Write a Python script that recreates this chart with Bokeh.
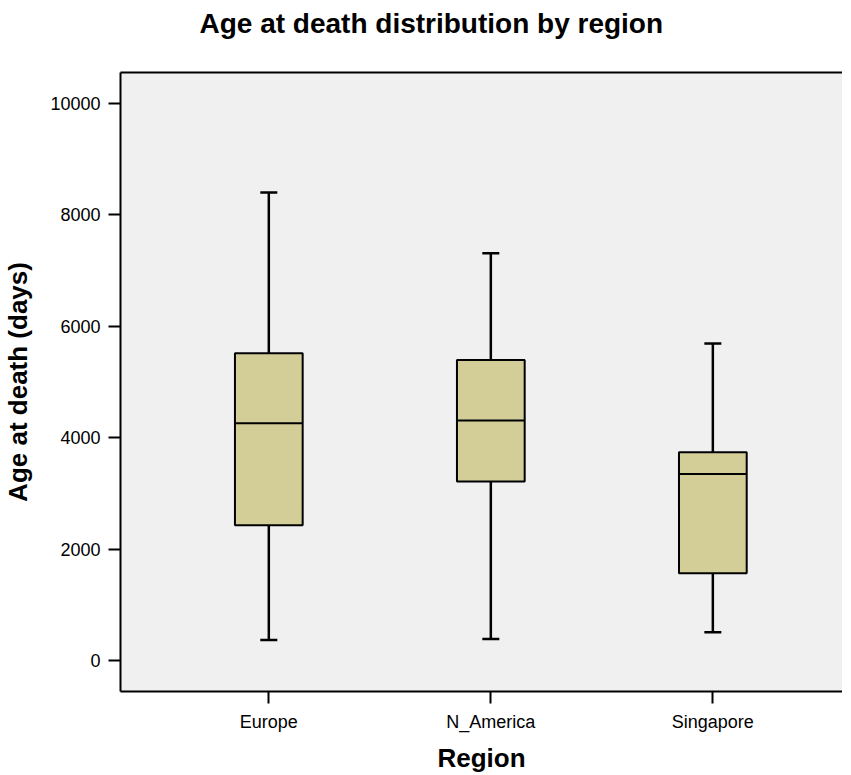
from bokeh.plotting import figure
from bokeh.models import ColumnDataSource, FixedTicker, LinearAxis, Whisker, TeeHead, Range1d
from bokeh.transform import dodge
from bokeh.embed import file_html
from bokeh.resources import INLINE

regions = ["Europe", "N_America", "Singapore"]
lower = [370, 388, 508]
q1 = [2428, 3212, 1566]
median = [4258, 4307, 3348]
q3 = [5514, 5394, 3738]
upper = [8398, 7309, 5688]
y_ticks = [0, 2000, 4000, 6000, 8000, 10000]

pos = list(range(1, len(regions) + 1))
src = ColumnDataSource(dict(x=pos, lower=lower, q1=q1, median=median, q3=q3, upper=upper))

FONT = "Liberation Sans"
BW = 0.305
BOX_FILL = "#d3ce98"

p = figure(frame_width=722, frame_height=619,
           x_range=Range1d(0.332, 3.584), y_range=Range1d(-556, 10551),
           output_backend="svg", toolbar_location=None,
           min_border_left=113, min_border_right=0, min_border_top=0, min_border_bottom=0)
p.background_fill_color = "#f0f0f0"
p.border_fill_color = "white"
p.outline_line_color = None
p.grid.visible = False

p.title.text = "Age at death distribution by region"
p.title.text_font = FONT
p.title.text_font_style = "bold"
p.title.text_font_size = "28px"
p.title.align = "left"
p.title.offset = 79
p.title.standoff = 10
p.title.text_color = "black"

for ax in (p.xaxis[0], p.yaxis[0]):
    ax.axis_line_width = 2
    ax.axis_line_color = "black"
    ax.major_tick_line_width = 2
    ax.major_tick_line_color = "black"
    ax.major_tick_out = 12
    ax.major_tick_in = 0
    ax.minor_tick_line_color = None
    ax.major_label_text_font = FONT
    ax.major_label_text_font_size = "18px"
    ax.major_label_text_color = "black"
    ax.axis_label_text_font = FONT
    ax.axis_label_text_font_style = "bold"
    ax.axis_label_text_font_size = "26px"
    ax.axis_label_text_color = "black"

p.xaxis.ticker = FixedTicker(ticks=pos)
p.xaxis.major_label_overrides = {x: r for x, r in zip(pos, regions)}
p.xaxis.axis_label = "Region"
p.xaxis.major_label_standoff = 8
p.xaxis.axis_label_standoff = 8

p.yaxis.ticker = FixedTicker(ticks=y_ticks)
p.yaxis.axis_label = "Age at death (days)"
p.yaxis.major_label_standoff = 8
p.yaxis.axis_label_standoff = 14

# top border of the frame (no ticks, no labels); its blank label spaces the title away
top_axis = LinearAxis(ticker=FixedTicker(ticks=[]), axis_line_width=2, axis_line_color="black",
                      major_tick_out=0, major_tick_in=0, major_tick_line_color=None,
                      minor_tick_out=0, minor_tick_in=0, minor_tick_line_color=None,
                      major_label_text_font_size="0px", major_label_standoff=0,
                      axis_label=" ", axis_label_text_font_size="1px", axis_label_standoff=25)
p.add_layout(top_axis, "above")

# whiskers
lo_w = Whisker(source=src, base="x", lower="lower", upper="q1", line_width=2.5, line_color="black",
               lower_head=TeeHead(size=17, line_width=2.5, line_color="black"), upper_head=None)
hi_w = Whisker(source=src, base="x", lower="q3", upper="upper", line_width=2.5, line_color="black",
               upper_head=TeeHead(size=17, line_width=2.5, line_color="black"), lower_head=None)
p.add_layout(lo_w)
p.add_layout(hi_w)

p.vbar(x="x", width=BW, bottom="q1", top="q3", source=src,
       fill_color=BOX_FILL, line_color="black", line_width=2)
p.segment(x0=dodge("x", -BW / 2, range=p.x_range), x1=dodge("x", BW / 2, range=p.x_range),
          y0="median", y1="median", source=src, line_color="black", line_width=2)

open("out.html", "w").write(file_html(p, INLINE))
